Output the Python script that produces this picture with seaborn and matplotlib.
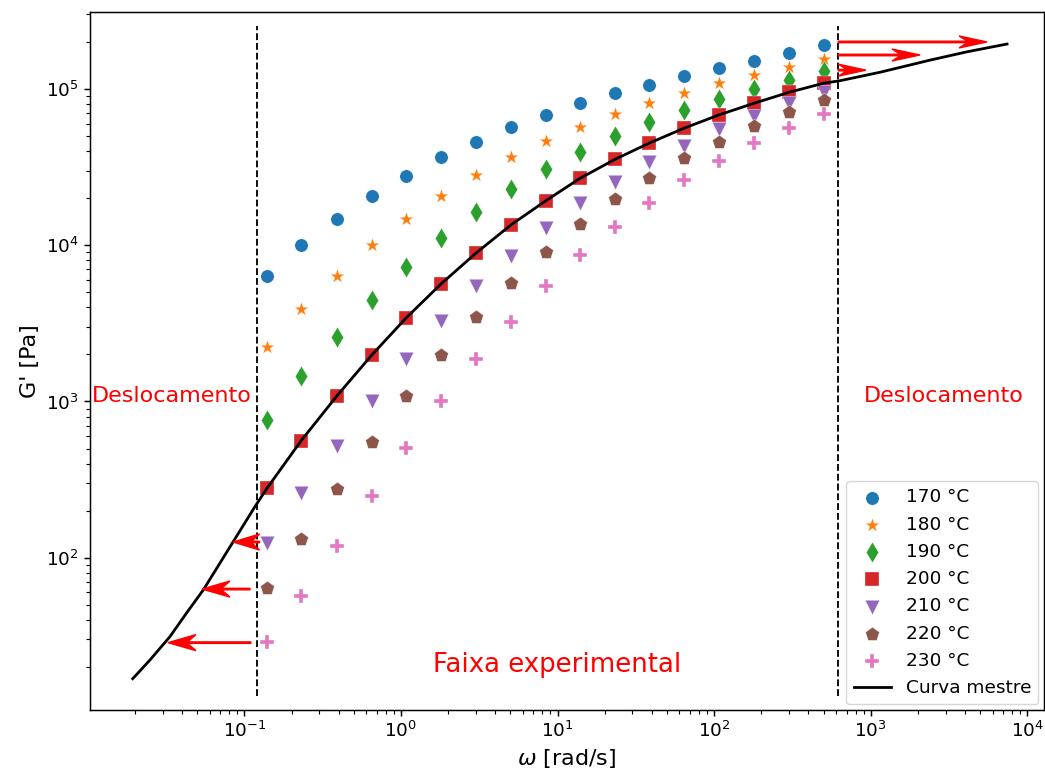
import matplotlib
matplotlib.use("Agg")
import matplotlib.pyplot as plt
import seaborn as sns
import numpy as np
import pandas as pd

# ---------------- data ----------------
omega = [0.14, 0.23, 0.39, 0.653, 1.08, 1.8, 3.01, 5.04, 8.43, 13.9, 23.3, 38.4,
         64.2, 107, 180, 300, 502]

G170 = [6.37e3, 1.0e4, 1.47e4, 2.07e4, 2.77e4, 3.67e4, 4.6e4, 5.69e4, 6.82e4, 8.08e4,
        9.38e4, 1.06e5, 1.21e5, 1.36e5, 1.52e5, 1.71e5, 1.91e5]
G180 = [2.24e3, 3.89e3, 6.4e3, 1.0e4, 1.47e4, 2.07e4, 2.8e4, 3.69e4, 4.67e4, 5.74e4,
        6.92e4, 8.17e4, 9.46e4, 1.09e5, 1.23e5, 1.38e5, 1.55e5]
G190 = [762, 1.46e3, 2.6e3, 4.47e3, 7.23e3, 1.11e4, 1.64e4, 2.28e4, 3.06e4, 3.97e4,
        5.0e4, 6.18e4, 7.35e4, 8.6e4, 9.96e4, 1.15e5, 1.31e5]
G200 = [280, 560, 1.09e3, 1.99e3, 3.43e3, 5.65e3, 8.9e3, 1.35e4, 1.93e4, 2.68e4,
        3.55e4, 4.5e4, 5.61e4, 6.82e4, 8.11e4, 9.52e4, 1.10e5]
G210 = [124, 259, 520, 1.01e3, 1.87e3, 3.28e3, 5.5e3, 8.55e3, 1.29e4, 1.86e4,
        2.55e4, 3.43e4, 4.31e4, 5.52e4, 6.72e4, 8.11e4, 9.61e4]
G220 = [63.8, 131, 275, 553, 1.09e3, 1.99e3, 3.47e3, 5.77e3, 9.1e3, 1.37e4,
        1.97e4, 2.69e4, 3.61e4, 4.6e4, 5.8e4, 7.16e4, 8.51e4]
G230 = [28.7, 57, 118, 249, 502, 1.0e3, 1.87e3, 3.24e3, 5.5e3, 8.68e3,
        1.30e4, 1.87e4, 2.62e4, 3.48e4, 4.5e4, 5.61e4, 6.92e4]

series_labels = ["170 °C", "180 °C", "190 °C", "200 °C", "210 °C", "220 °C", "230 °C"]
series_values = [G170, G180, G190, G200, G210, G220, G230]
series_markers = ["o", "*", "d", "s", "v", "p", "P"]
series_colors = ["#1f77b4", "#ff7f0e", "#2ca02c", "#d62728", "#9467bd", "#8c564b", "#e377c2"]
series_sizes = [92, 118, 110, 92, 110, 110, 110]

# master curve
omega_master = [0.01935, 0.0250, 0.0335, 0.0428, 0.0547, 0.0733, 0.117, 0.14,
                0.23, 0.39, 0.653, 1.08, 1.8, 3.01, 5.04, 8.43, 13.9, 23.3, 38.4, 64.2,
                107, 180, 300, 502, 636, 1146, 2388, 4115, 7413]
G_master = [16.8, 22.2, 31.3, 44.4, 62.3, 100, 213, 280,
            560, 1087, 1990, 3430, 5650, 8900, 13500, 19300, 26800, 35500, 45000, 56100,
            68200, 81100, 95200, 109000, 113000, 128000, 153000, 173000, 194000]

# experimental window limits
window = [0.12, 620]

# shift arrows: (start omega, end omega, G)
arrow_left_start = [0.125, 0.1086, 0.110]
arrow_left_end = [0.0846, 0.0536, 0.0325]
arrow_left_G = [126, 63, 28.6]
arrow_right_start = [620, 620, 620]
arrow_right_end = [5520, 2060, 931]
arrow_right_G = [2.0e5, 1.65e5, 1.32e5]

# ---------------- style ----------------
S = 4.0 / 3.0
plt.rcParams.update({
    "font.family": ["DejaVu Sans"],
    "axes.linewidth": 0.8 * S,
    "xtick.major.size": 3.5 * S, "ytick.major.size": 3.5 * S,
    "xtick.minor.size": 2.0 * S, "ytick.minor.size": 2.0 * S,
    "xtick.major.width": 0.8 * S, "ytick.major.width": 0.8 * S,
    "xtick.minor.width": 0.6 * S, "ytick.minor.width": 0.6 * S,
    "xtick.labelsize": 13.3, "ytick.labelsize": 13.3,
    "axes.labelsize": 16,
})

fig, ax = plt.subplots(figsize=(10.45, 7.71), dpi=100)
fig.subplots_adjust(left=90 / 1045, right=1044 / 1045, top=1 - 12 / 771, bottom=1 - 710 / 771)

for lab, vals, mk, col, sz in zip(series_labels, series_values, series_markers,
                                  series_colors, series_sizes):
    df = pd.DataFrame({"omega": omega, "G": vals})
    sns.scatterplot(data=df, x="omega", y="G", marker=mk, color=col, s=sz,
                    edgecolor="white", linewidth=0.25, label=lab, ax=ax, zorder=3)

dfm = pd.DataFrame({"omega": omega_master, "G": G_master})
sns.lineplot(data=dfm, x="omega", y="G", color="black", lw=2.0, label="Curva mestre",
             ax=ax, sort=False, estimator=None, zorder=4)

ax.set_xscale("log")
ax.set_yscale("log")
ax.set_xlim(0.01033, 1.276e4)
ax.set_ylim(10.6, 3.11e5)

for xv in window:
    ax.axvline(xv, ymin=0.02, ymax=0.98, color="black", ls="--", lw=1.33, zorder=2)

# arrows drawn in axes coordinates for constant-looking heads
inv = ax.transAxes.inverted()
def to_axes(x, y):
    return inv.transform(ax.transData.transform((x, y)))

def draw_arrow(x0, x1, y, hw):
    p0 = to_axes(x0, y)
    p1 = to_axes(x1, y)
    dx = p1[0] - p0[0]
    hl = min(28 / 954, abs(dx))
    ax.arrow(p0[0], p0[1], dx, 0, transform=ax.transAxes, width=1.5 / 698,
             head_width=hw, head_length=hl, overhang=0.3, length_includes_head=True,
             color="red", zorder=5)

for a, b, g in zip(arrow_left_start, arrow_left_end, arrow_left_G):
    draw_arrow(a, b, g, 16 / 698)
for a, b, g in zip(arrow_right_start, arrow_right_end, arrow_right_G):
    draw_arrow(a, b, g, 12 / 698)

ax.text(0.0345, 1087, "Deslocamento", color="red", fontsize=16, ha="center", va="center")
ax.text(2930, 1087, "Deslocamento", color="red", fontsize=16, ha="center", va="center")
ax.text(9.9, 20.7, "Faixa experimental", color="red", fontsize=18.7, ha="center", va="center")

ax.set_xlabel(r"$\omega$ [rad/s]")
ax.set_ylabel("G' [Pa]")
ax.legend(loc="lower right", fontsize=13.3, borderaxespad=0.3)

fig.savefig("out.png", dpi=100)
